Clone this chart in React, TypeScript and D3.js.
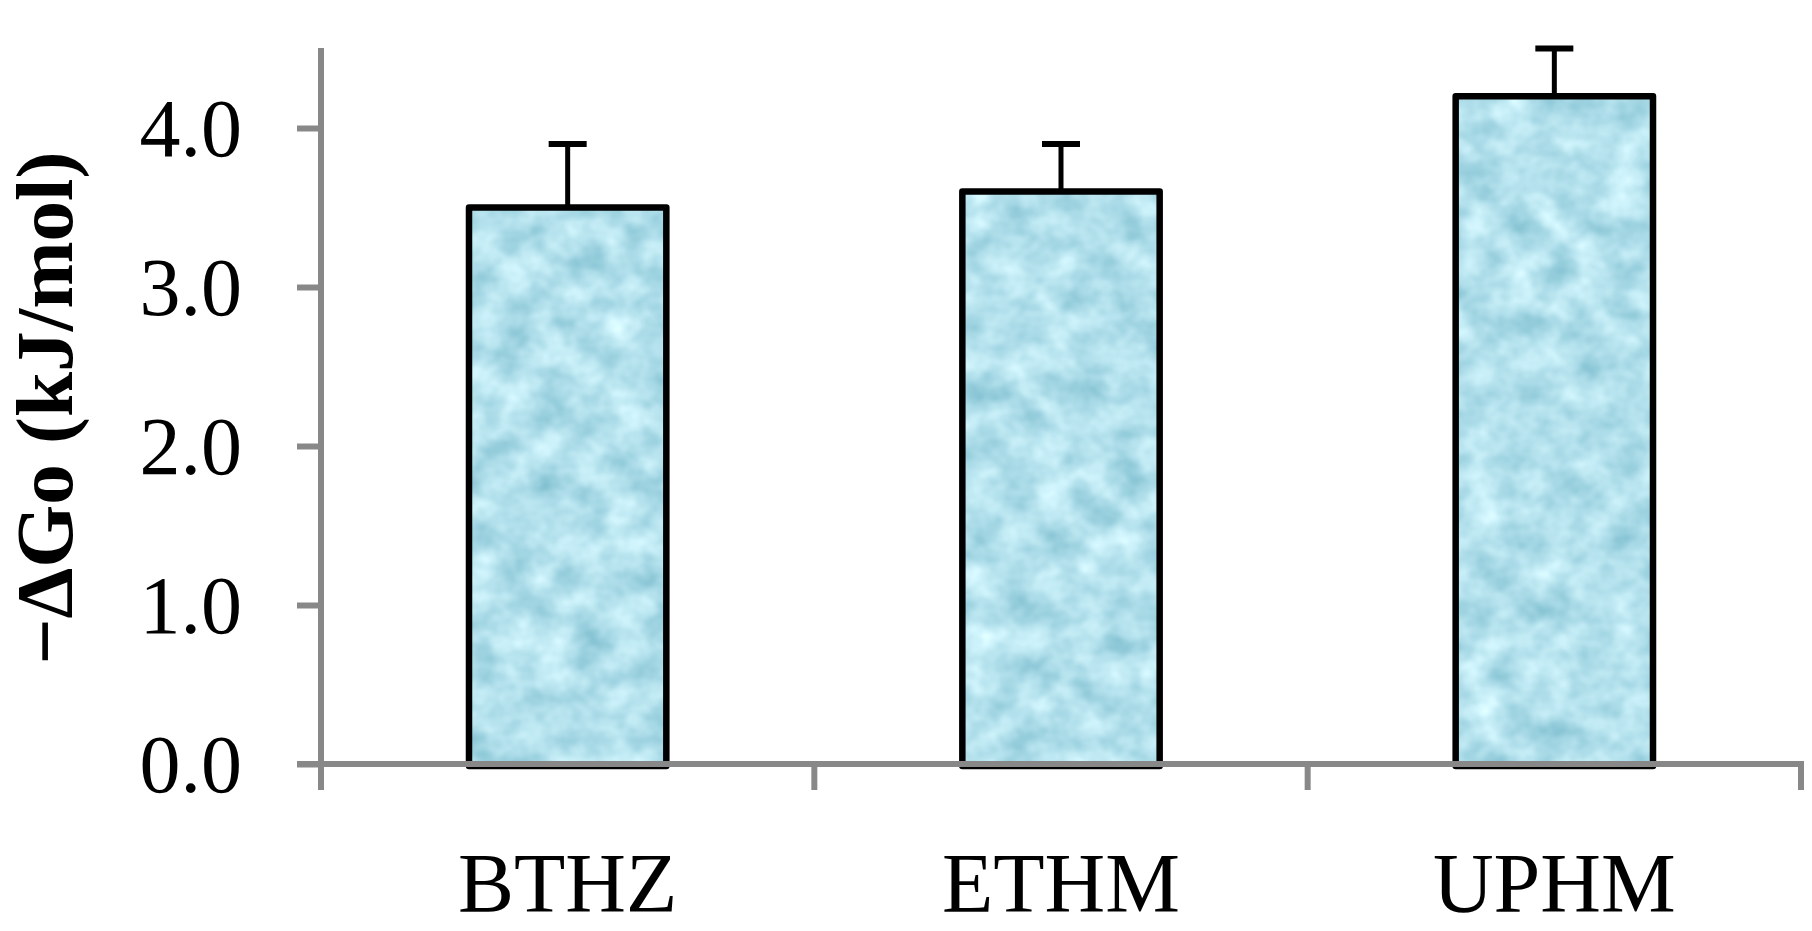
import * as d3 from "d3";
import {useEffect, useRef} from "react";

const categories = ["BTHZ", "ETHM", "UPHM"];
const values = [3.5, 3.6, 4.2];
const errors = [0.4, 0.3, 0.3];
const yTicks = [0, 1, 2, 3, 4];
const yLabel = "\u2212\u0394Go (kJ/mol)";

const W = 1812;
const H = 931;
const FONT = "'Liberation Serif', 'Times New Roman', serif";
const AXIS_GRAY = "#888888";

const useD3 = (renderChartFn, dependencies) => {
    const ref = useRef();
    useEffect(() => {
        renderChartFn(d3.select(ref.current));
        return () => {};
    }, dependencies);
    return ref;
}

const BarChart = () => {
    const ref = useD3(
        (svg) => {
            svg.selectAll("*").remove()

            const x = d3.scaleBand()
                .domain(categories)
                .range([321, 1801])
                .paddingInner(0.6)
                .paddingOuter(0.3)

            const y = d3.scaleLinear()
                .domain([0, 4.5])
                .range([764, 48.5])

            // water-like texture for the bars
            const defs = svg.append("defs")
            const filter = defs.append("filter")
                .attr("id", "water")
                .attr("x", 0).attr("y", 0)
                .attr("width", 1).attr("height", 1)
                .attr("color-interpolation-filters", "sRGB")
            filter.append("feTurbulence")
                .attr("type", "fractalNoise")
                .attr("baseFrequency", "0.028 0.032")
                .attr("numOctaves", 3)
                .attr("seed", 7)
                .attr("result", "noise")
            filter.append("feColorMatrix")
                .attr("in", "noise")
                .attr("type", "matrix")
                .attr("values",
                    "0.45 0 0 0 0.475 " +
                    "0.3 0 0 0 0.73 " +
                    "0.25 0 0 0 0.80 " +
                    "0 0 0 0 1")
                .attr("result", "tint")
            filter.append("feComposite")
                .attr("in", "tint")
                .attr("in2", "SourceGraphic")
                .attr("operator", "in")

            const bars = svg.append("g")
            bars.selectAll("rect.fill")
                .data(values)
                .enter()
                .append("rect")
                .attr("class", "fill")
                .attr("x", (d, i) => x(categories[i]))
                .attr("y", (d) => y(d))
                .attr("width", x.bandwidth())
                .attr("height", (d) => y(0) - y(d) + 2)
                .attr("fill", "#b4e2ec")
                .attr("filter", "url(#water)")
            bars.selectAll("rect.edge")
                .data(values)
                .enter()
                .append("rect")
                .attr("class", "edge")
                .attr("x", (d, i) => x(categories[i]))
                .attr("y", (d) => y(d))
                .attr("width", x.bandwidth())
                .attr("height", (d) => y(0) - y(d) + 2)
                .attr("fill", "none")
                .attr("stroke", "black")
                .attr("stroke-width", 6.5)
                .attr("stroke-linejoin", "round")

            // error bars (upper only)
            const err = svg.append("g")
                .attr("stroke", "black")
                .attr("stroke-width", 5)
            values.forEach((v, i) => {
                const cx = x(categories[i]) + x.bandwidth() / 2
                err.append("line")
                    .attr("x1", cx).attr("x2", cx)
                    .attr("y1", y(v)).attr("y2", y(v + errors[i]))
                err.append("line")
                    .attr("x1", cx - 19).attr("x2", cx + 19)
                    .attr("y1", y(v + errors[i])).attr("y2", y(v + errors[i]))
                    .attr("stroke-width", 6)
            })

            // y axis
            const yAxis = svg.append("g")
                .attr("transform", "translate(321,0)")
                .call(d3.axisLeft(y)
                    .tickValues(yTicks)
                    .tickFormat(d3.format(".1f"))
                    .tickSize(24)
                    .tickSizeOuter(0)
                    .tickPadding(55))
            yAxis.select(".domain").remove()
            yAxis.selectAll(".tick line")
                .attr("stroke", AXIS_GRAY)
                .attr("stroke-width", 6)
            yAxis.selectAll(".tick text")
                .attr("fill", "black")
                .attr("dy", null)
                .attr("y", 27)
                .style("font-family", FONT)
                .style("font-size", "82px")
            svg.append("line")
                .attr("x1", 321).attr("x2", 321)
                .attr("y1", 48).attr("y2", 790)
                .attr("stroke", AXIS_GRAY)
                .attr("stroke-width", 6)

            // x axis with category boundary ticks
            const step = x.step()
            const edges = [...categories.map(c => x(c) + x.bandwidth() / 2 - step / 2), x.range()[1]]
            svg.append("line")
                .attr("x1", 297).attr("x2", 1804)
                .attr("y1", y(0)).attr("y2", y(0))
                .attr("stroke", AXIS_GRAY)
                .attr("stroke-width", 6)
            svg.append("g")
                .selectAll("line")
                .data(edges)
                .enter()
                .append("line")
                .attr("x1", (d) => d).attr("x2", (d) => d)
                .attr("y1", y(0)).attr("y2", 790)
                .attr("stroke", AXIS_GRAY)
                .attr("stroke-width", 6)

            svg.append("g")
                .selectAll("text")
                .data(categories)
                .enter()
                .append("text")
                .attr("x", (d) => x(d) + x.bandwidth() / 2)
                .attr("y", 912)
                .attr("text-anchor", "middle")
                .style("font-family", FONT)
                .style("font-size", "84px")
                .text((d) => d)

            svg.append("text")
                .attr("transform", "translate(72,408) rotate(-90)")
                .attr("text-anchor", "middle")
                .style("font-family", FONT)
                .style("font-weight", "bold")
                .style("font-size", "81px")
                .text(yLabel)
        }, []
    )

    return (
        <svg
            ref={ref}
            width={W}
            height={H}
            style={{position: "absolute", left: 0, top: 0, background: "white"}}>
        </svg>
    )
}

export default function App() {
    return <BarChart/>
}
